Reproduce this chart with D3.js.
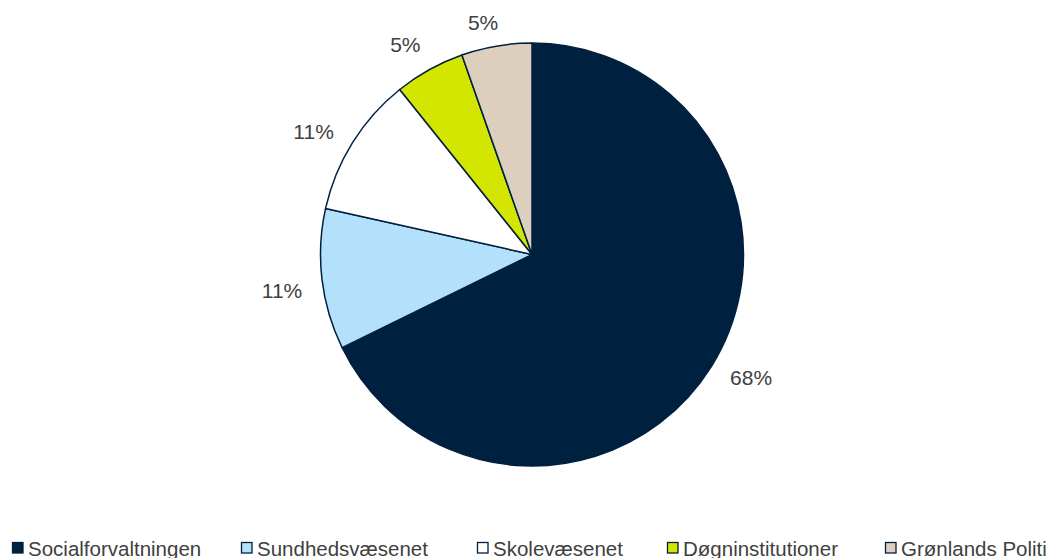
<!DOCTYPE html>
<html>
<head>
<meta charset="utf-8">
<script src="https://cdn.jsdelivr.net/npm/d3@7"></script>
<style>
  body { margin: 0; background: #fff; }
  text { font-family: "Liberation Sans", Arial, sans-serif; fill: #404040; }
</style>
</head>
<body>
<div id="plot"></div>
<script>
// data
var categories = ["Socialforvaltningen", "Sundhedsvæsenet", "Skolevæsenet", "Døgninstitutioner", "Grønlands Politi"];
var counts = [63, 10, 10, 5, 5];
var colors = ["#00203f", "#b3e1fb", "#ffffff", "#d4e600", "#dccfbe"];

var width = 1057,
    height = 558,
    cx = 532,
    cy = 254.5,
    radius = 211.5,
    labelGap = 21,
    labelTurn = -0.03; // labels sit a little counter-clockwise of the slice middle

var svg = d3.select("#plot")
    .append("svg")
    .attr("width", width)
    .attr("height", height);

var total = d3.sum(counts);

var pie = d3.pie()
    .sort(null)
    .value(function(d){ return d; });

var arcs = pie(counts);

var arc = d3.arc()
    .innerRadius(0)
    .outerRadius(radius);

var g = svg.append("g")
    .attr("transform", `translate(${cx},${cy})`);

// slices
g.selectAll("path.slice")
    .data(arcs)
    .enter()
    .append("path")
    .attr("class", "slice")
    .attr("d", arc)
    .attr("fill", function(d,i){ return colors[i]; })
    .attr("stroke", "#00203f")
    .attr("stroke-width", 1.5)
    .attr("stroke-linejoin", "round");

// labels, outside end
var labels = g.selectAll("text.lbl")
    .data(arcs)
    .enter()
    .append("text")
    .attr("class", "lbl")
    .attr("text-anchor", "middle")
    .attr("dominant-baseline", "central")
    .style("font-size", "21px")
    .text(function(d){ return Math.round(d.value/total*100) + "%"; });

labels.each(function(d){
    var a = (d.startAngle + d.endAngle)/2 + labelTurn,
        ux = Math.sin(a),
        uy = -Math.cos(a),
        w = this.getComputedTextLength(),
        h = 23.6;
    var x = ux*(radius+labelGap) + ux*w/2,
        y = uy*(radius+labelGap) + uy*h/2;
    // keep inside the chart area
    y = Math.max(y, 22 - cy);
    d3.select(this).attr("x", x).attr("y", y);
});

// legend
var legendX = [12, 241, 477, 667, 885];
var legend = svg.append("g");

var items = legend.selectAll("g")
    .data(categories)
    .enter()
    .append("g")
    .attr("transform", function(d,i){ return `translate(${legendX[i]},0)`; });

items.append("rect")
    .attr("x", 0.5)
    .attr("y", 542.5)
    .attr("width", 10.5)
    .attr("height", 10.5)
    .attr("fill", function(d,i){ return colors[i]; })
    .attr("stroke", "#00203f")
    .attr("stroke-width", 1.3);

items.append("text")
    .attr("x", 16)
    .attr("y", 555.5)
    .style("font-size", "20.5px")
    .text(function(d){ return d; });
</script>
</body>
</html>
